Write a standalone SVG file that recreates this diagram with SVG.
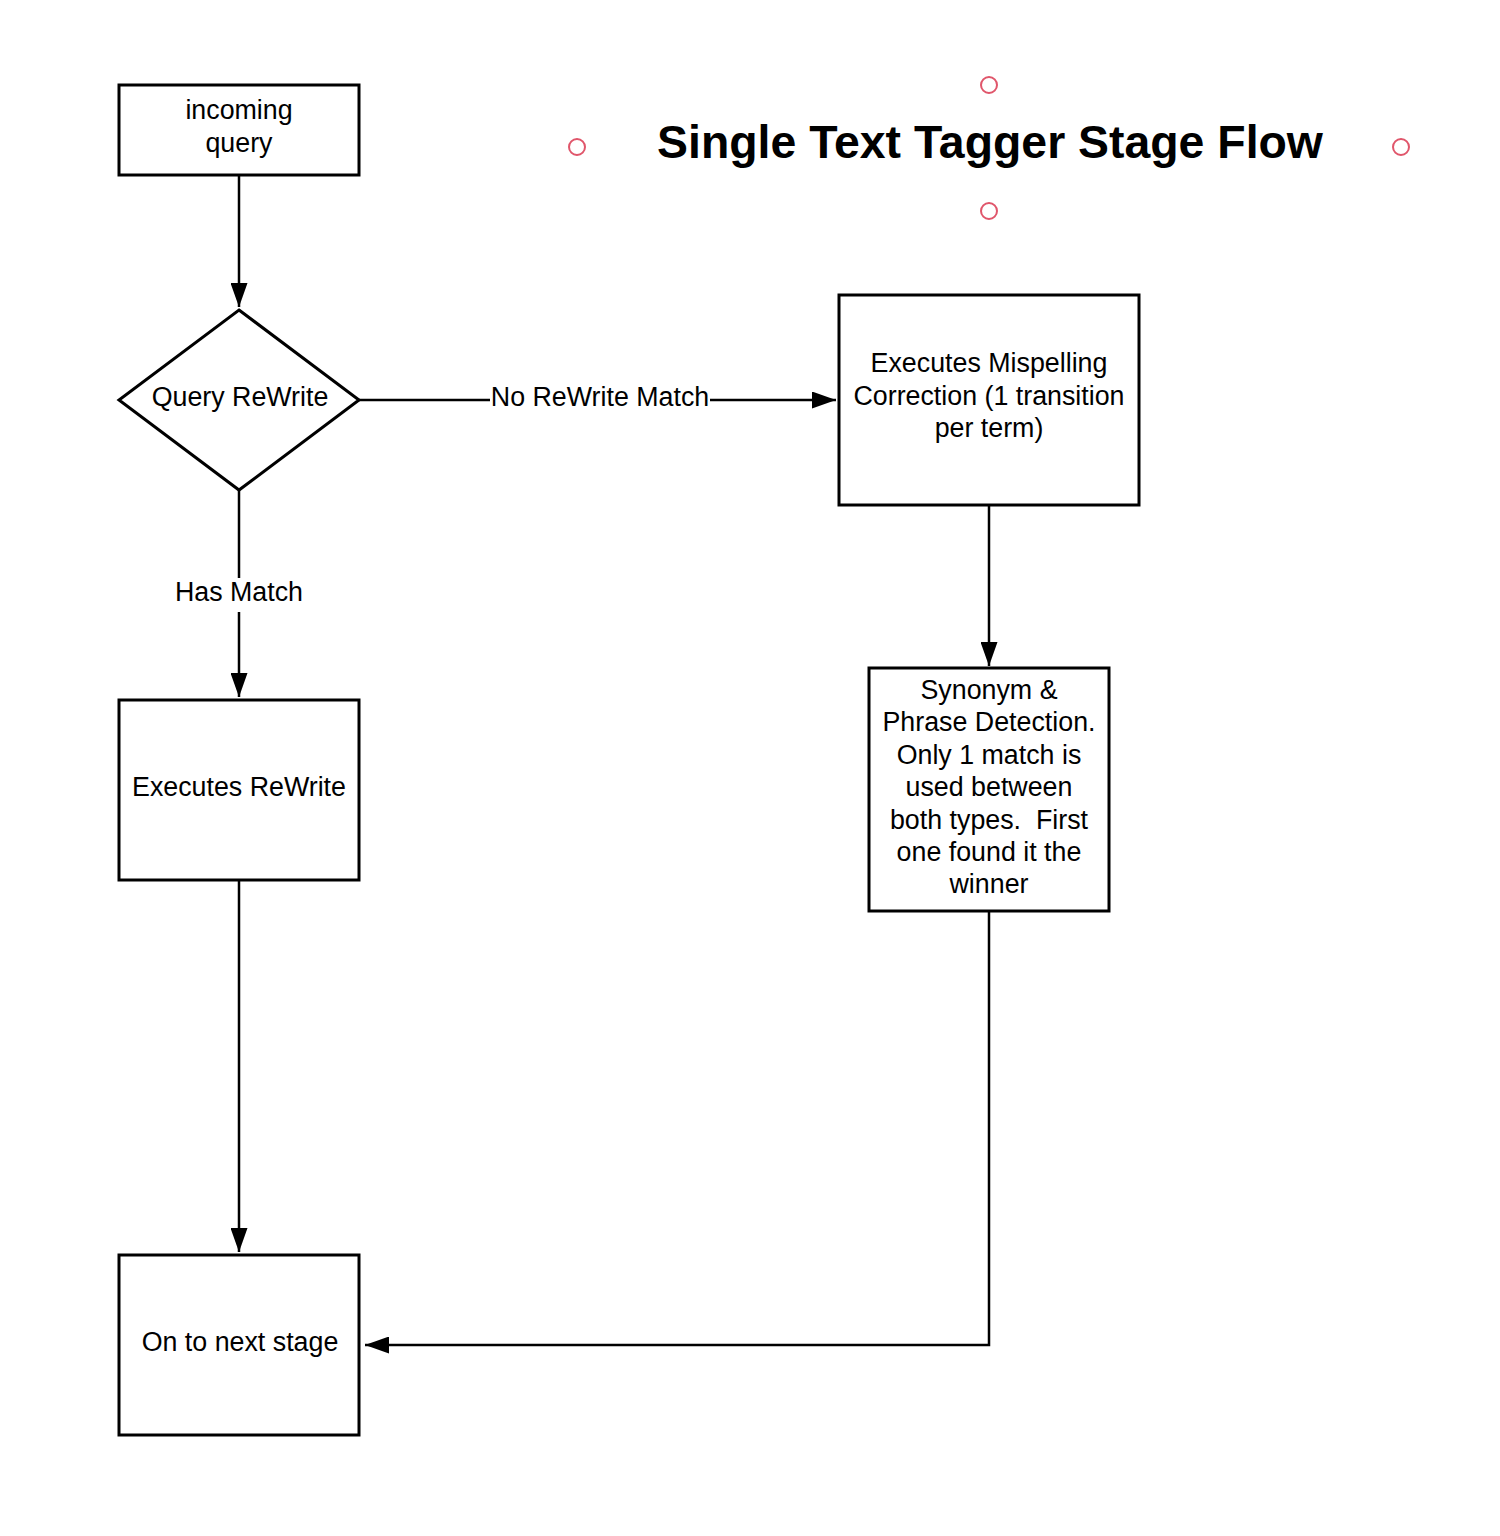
<svg xmlns="http://www.w3.org/2000/svg" width="1500" height="1536" viewBox="0 0 1500 1536">
  <style>
    .node { fill: #ffffff; stroke: #000000; stroke-width: 3; }
    .txt { font-family: "Liberation Sans", Arial, sans-serif; font-size: 26.8px; fill: #000000; text-anchor: middle; }
    .title { font-family: "Liberation Sans", Arial, sans-serif; font-size: 46.4px; font-weight: bold; fill: #000000; text-anchor: middle; }
    .conn { fill: none; stroke: #000000; stroke-width: 2.5; }
    .handle { fill: none; stroke: #e0566b; stroke-width: 2; }
    .lblbg { fill: #ffffff; stroke: none; }
  </style>
  <defs>
    <marker id="arrow" viewBox="0 0 24 17" refX="24" refY="8.5" markerWidth="24" markerHeight="17" markerUnits="userSpaceOnUse" orient="auto">
      <path d="M0,0 L24,8.5 L0,17 z" fill="#000000"/>
    </marker>
  </defs>
  <rect x="0" y="0" width="1500" height="1536" fill="#ffffff"/>

  <g id="title">
    <text class="title" x="990" y="158">Single Text Tagger Stage Flow</text>
    <circle class="handle" cx="989" cy="85" r="8"/>
    <circle class="handle" cx="577" cy="147" r="8"/>
    <circle class="handle" cx="1401" cy="147" r="8"/>
    <circle class="handle" cx="989" cy="211" r="8"/>
  </g>

  <g id="connectors">
    <path class="conn" d="M239,175 L239,307" marker-end="url(#arrow)"/>
    <path class="conn" d="M359,400 L836,400" marker-end="url(#arrow)"/>
    <rect class="lblbg" x="490" y="382" width="220" height="32"/>
    <text class="txt" x="600" y="406">No ReWrite Match</text>
    <path class="conn" d="M239,490 L239,697" marker-end="url(#arrow)"/>
    <rect class="lblbg" x="172" y="578" width="134" height="34"/>
    <text class="txt" x="239" y="601">Has Match</text>
    <path class="conn" d="M989,505 L989,666" marker-end="url(#arrow)"/>
    <path class="conn" d="M239,880 L239,1252" marker-end="url(#arrow)"/>
    <path class="conn" d="M989,911 L989,1345 L365,1345" marker-end="url(#arrow)"/>
  </g>

  <g id="incoming-query">
    <rect class="node" x="119" y="85" width="240" height="90"/>
    <text class="txt" x="239" y="119">incoming</text>
    <text class="txt" x="239" y="152">query</text>
  </g>

  <g id="query-rewrite">
    <polygon class="node" points="239,310 359,400 239,490 119,400"/>
    <text class="txt" x="240" y="406">Query ReWrite</text>
  </g>

  <g id="executes-rewrite">
    <rect class="node" x="119" y="700" width="240" height="180"/>
    <text class="txt" x="239" y="796">Executes ReWrite</text>
  </g>

  <g id="next-stage">
    <rect class="node" x="119" y="1255" width="240" height="180"/>
    <text class="txt" x="240" y="1351">On to next stage</text>
  </g>

  <g id="mispelling">
    <rect class="node" x="839" y="295" width="300" height="210"/>
    <text class="txt" x="989" y="372">Executes Mispelling</text>
    <text class="txt" x="989" y="405">Correction (1 transition</text>
    <text class="txt" x="989" y="437">per term)</text>
  </g>

  <g id="synonym">
    <rect class="node" x="869" y="668" width="240" height="243"/>
    <text class="txt" x="989" y="699">Synonym &amp;</text>
    <text class="txt" x="989" y="731">Phrase Detection.</text>
    <text class="txt" x="989" y="764">Only 1 match is</text>
    <text class="txt" x="989" y="796">used between</text>
    <text class="txt" x="989" y="829" xml:space="preserve">both types.  First</text>
    <text class="txt" x="989" y="861">one found it the</text>
    <text class="txt" x="989" y="893">winner</text>
  </g>
</svg>
